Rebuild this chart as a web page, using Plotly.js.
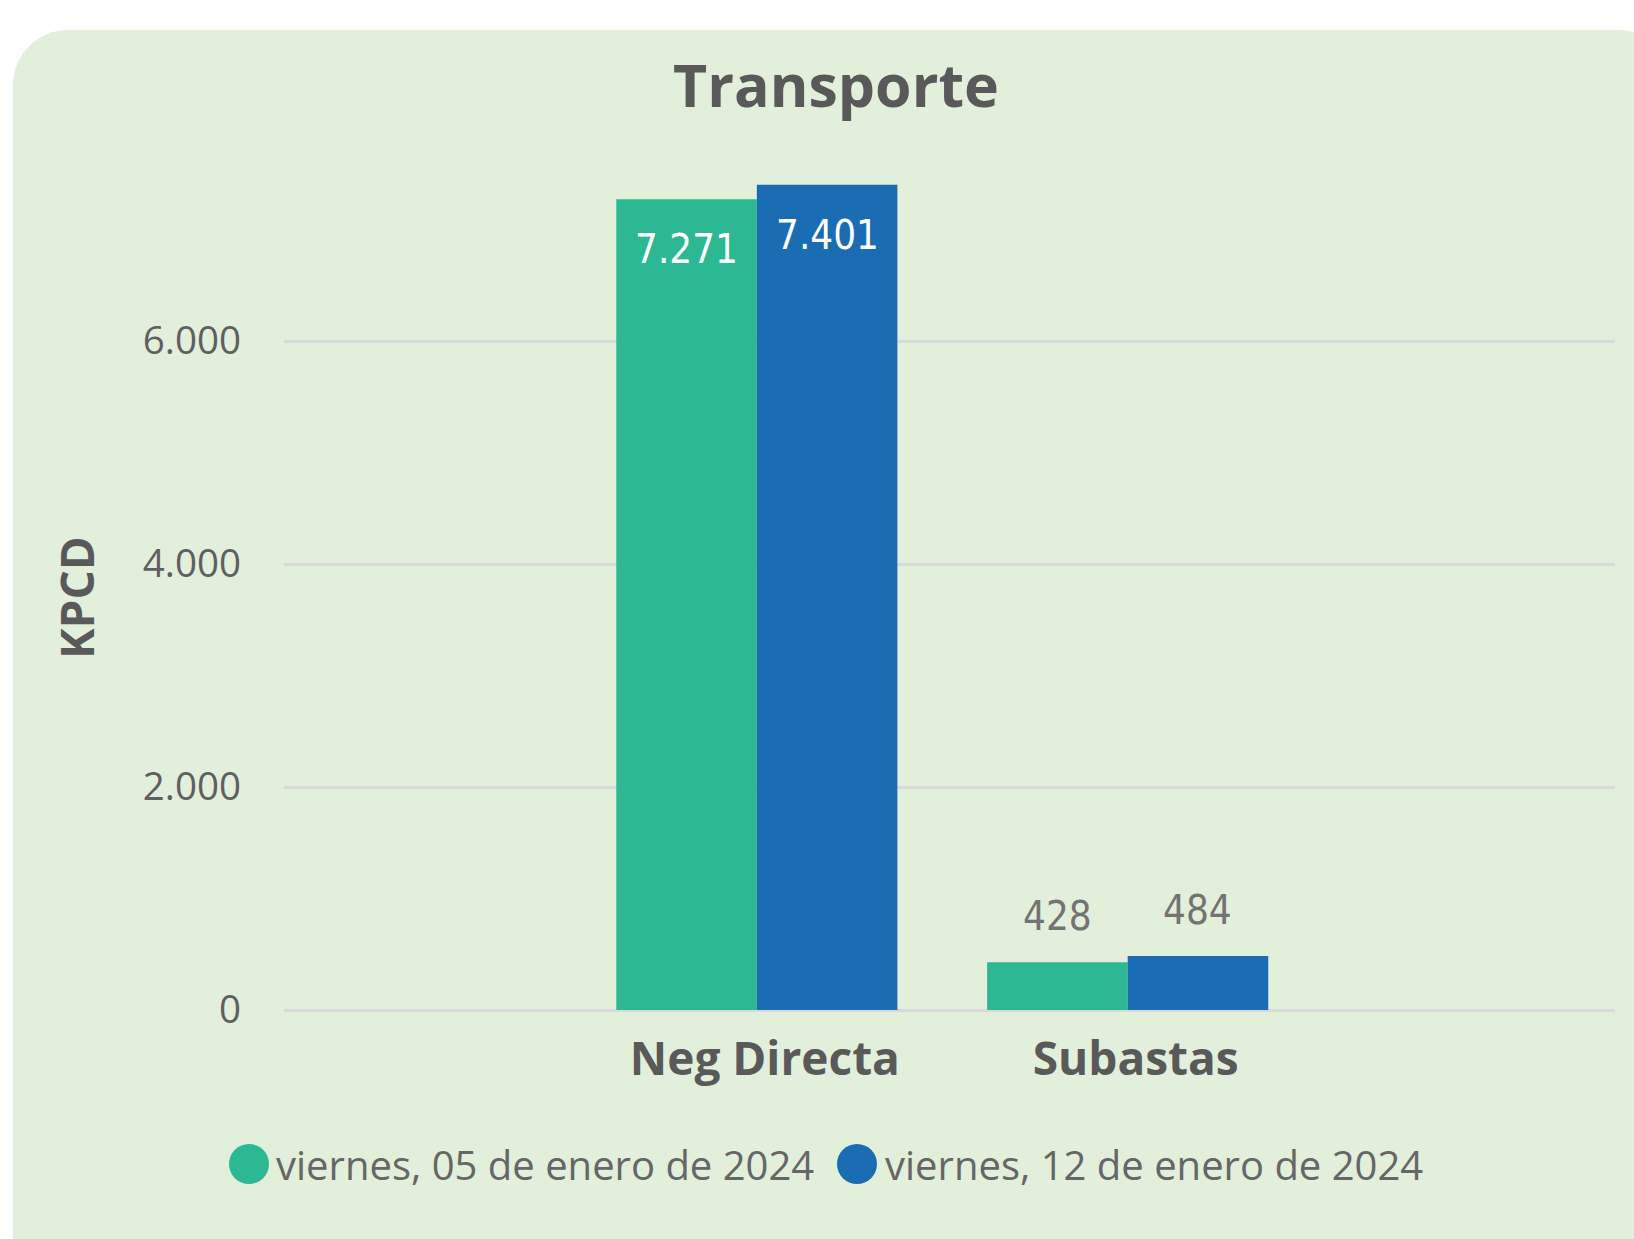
<!DOCTYPE html>
<html><head><meta charset="utf-8">
<script src="https://cdn.plot.ly/plotly-3.0.1.min.js"></script>
<style>
html,body{margin:0;padding:0;background:#ffffff;width:1634px;height:1239px;overflow:hidden;}
#panel{position:absolute;left:13px;top:30px;width:1660px;height:1320px;background:#E2EFDA;border-radius:55px;}
#chart{position:absolute;left:0;top:0;width:1634px;height:1239px;}
</style></head><body>
<div id="panel"></div><div id="chart"></div>
<script>
// ---- data ----
const categories = ['Neg Directa', 'Subastas'];
const seriesNames = ['viernes, 05 de enero de 2024', 'viernes, 12 de enero de 2024'];
const values05 = [7271, 428];
const values12 = [7401, 484];
const yTickValues = [0, 2000, 4000, 6000];
const yTickLabels = ['0', '2.000', '4.000', '6.000'];
const chartTitle = 'Transporte';
const yTitle = 'KPCD';

// ---- style ----
const colors = ['#2BB893', '#1A6CB3'];
const BARGAP = 0.242;
const Y_MAX = 8000;
const W = 1634, H = 1239;
const M = {l: 284, r: 19, t: 118, b: 229};
const FONT = '"Segoe UI", "Open Sans", sans-serif';
const LABEL_FONT = '"DejaVu Sans Condensed", "DejaVu Sans", sans-serif';

function fmt(v) { return String(v).replace(/\B(?=(\d{3})+(?!\d))/g, '.'); }

const series = [values05, values12];
const traces = series.map((vals, i) => ({
  type: 'bar', x: categories, y: vals, name: seriesNames[i],
  marker: {color: colors[i], line: {width: 0}},
  hoverinfo: 'skip', showlegend: false
}));

const plotW = W - M.l - M.r, plotH = H - M.t - M.b;
const px2x = p => (p - M.l) / plotW;
const py2y = p => (H - M.b - p) / plotH;

// data labels
const annotations = [];
const halfBar = (1 - BARGAP) / 4;
series.forEach((vals, i) => {
  vals.forEach((v, j) => {
    const inside = v > Y_MAX * 0.5;
    annotations.push({
      x: j + (i === 0 ? -halfBar : halfBar), y: v, xref: 'x', yref: 'y',
      text: fmt(v), showarrow: false, xanchor: 'center', yanchor: 'middle',
      yshift: inside ? -50 : 46,
      font: {family: LABEL_FONT, size: 40, color: inside ? '#FFFFFF' : '#737373'}
    });
  });
});

// y axis title (placed like the original, below plot centre)
annotations.push({xref: 'paper', yref: 'paper', x: px2x(76), y: py2y(597),
  xanchor: 'center', yanchor: 'middle', textangle: -90, showarrow: false,
  text: '<b>' + yTitle + '</b>', font: {family: FONT, size: 46, color: '#595959'}});

// manual legend
const legendCircleX = [249, 857];
const legendTextX = [274, 883];
const legendY = 1164;
const shapes = [];
seriesNames.forEach((n, i) => {
  shapes.push({type: 'circle', xref: 'paper', yref: 'paper',
    xsizemode: 'pixel', ysizemode: 'pixel',
    xanchor: px2x(legendCircleX[i]), yanchor: py2y(legendY),
    x0: -20, x1: 20, y0: -20, y1: 20,
    fillcolor: colors[i], line: {width: 0}});
  annotations.push({xref: 'paper', yref: 'paper', x: px2x(legendTextX[i]), y: py2y(legendY),
    xanchor: 'left', yanchor: 'middle', showarrow: false, text: n,
    font: {family: FONT, size: 40, color: '#666666'}});
});

const layout = {
  width: W, height: H, margin: M,
  paper_bgcolor: 'rgba(0,0,0,0)', plot_bgcolor: 'rgba(0,0,0,0)',
  separators: ',.',
  barmode: 'group', bargap: BARGAP, bargroupgap: 0,
  showlegend: false,
  title: {text: '<b>' + chartTitle + '</b>', xref: 'container', yref: 'container',
    x: 836 / W, y: 1 - 86 / H, xanchor: 'center', yanchor: 'middle',
    font: {family: FONT, size: 59, color: '#595959'}},
  xaxis: {type: 'category', range: [-1.275, 2.314], fixedrange: true,
    showgrid: false, zeroline: false, showline: false, ticks: '',
    ticklabelstandoff: 18, ticklabelshift: 8,
    tickfont: {family: FONT, size: 46, color: '#595959', weight: 'bold'}},
  yaxis: {range: [0, Y_MAX], fixedrange: true, tickvals: yTickValues, ticktext: yTickLabels,
    showgrid: true, gridcolor: '#D9D9D9', gridwidth: 3,
    zeroline: true, zerolinecolor: '#D9D9D9', zerolinewidth: 3, showline: false,
    ticks: '', ticklabelstandoff: 42,
    tickfont: {family: FONT, size: 38.5, color: '#5F5F5F'}},
  annotations: annotations, shapes: shapes
};

Plotly.newPlot('chart', traces, layout, {staticPlot: true, displayModeBar: false});
</script>
</body></html>
